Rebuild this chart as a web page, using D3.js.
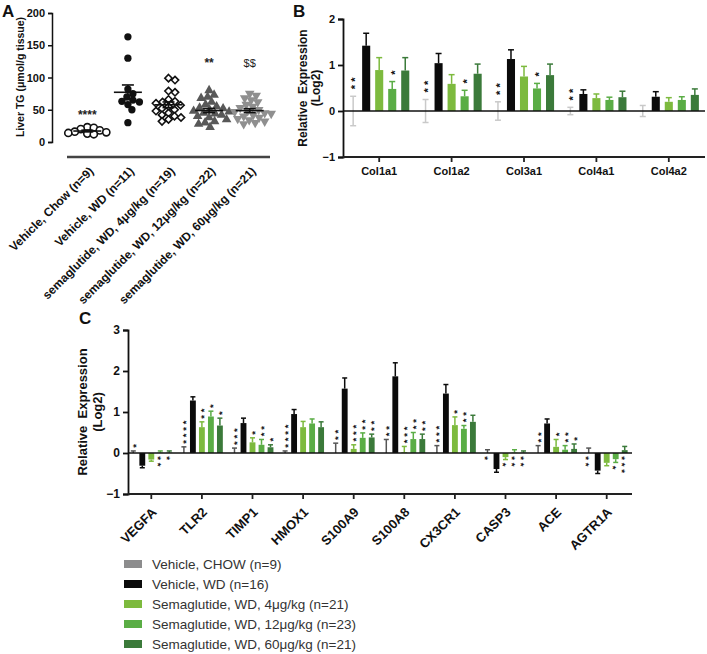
<!DOCTYPE html>
<html><head><meta charset="utf-8">
<script src="https://cdn.jsdelivr.net/npm/d3@7"></script>
<style>body{margin:0;background:#fff} svg{display:block} text{font-family:Arial,"Liberation Sans",sans-serif;fill:#111}</style>
</head><body><svg id="c" width="707" height="654"></svg>
<script>
// ---------- Panel A data ----------
const aGroups = ["Vehicle, Chow (n=9)", "Vehicle, WD (n=11)", "semaglutide, WD, 4μg/kg (n=19)", "semaglutide, WD, 12μg/kg (n=22)", "semaglutide, WD, 60μg/kg (n=21)"];
const aChow = [22, 23, 20, 18, 16, 14, 13, 12, 15];
const aWD = [163, 130, 82, 75, 70, 65, 63, 62, 58, 50, 30];
const a4 = [99, 96, 79, 77, 66, 63, 62, 60, 57, 55, 52, 50, 48, 45, 42, 40, 38, 35, 32];
const a12 = [80, 73, 70, 68, 62, 58, 55, 53, 52, 50, 48, 47, 45, 44, 42, 40, 38, 35, 32, 30, 28, 23];
const a60 = [75, 72, 68, 65, 62, 58, 55, 53, 50, 48, 47, 45, 44, 42, 40, 38, 36, 34, 32, 30, 28];
const aSig = ["****", "", "", "**", "$$"];
const aSigLevel = [36, 0, 0, 116, 116];
const aTicks = [0, 50, 100, 150, 200];

// ---------- Panel B data ----------
const bGenes = ["Col1a1", "Col1a2", "Col3a1", "Col4a1", "Col4a2"];
const bChowErr = [0.32, 0.25, 0.2, 0.08, 0.12];
const bWD = [1.42, 1.04, 1.13, 0.37, 0.31];
const bWDErr = [0.27, 0.21, 0.2, 0.09, 0.11];
const b4 = [0.89, 0.59, 0.75, 0.28, 0.2];
const b4Err = [0.27, 0.2, 0.22, 0.09, 0.09];
const b12 = [0.48, 0.32, 0.49, 0.24, 0.24];
const b12Err = [0.16, 0.13, 0.11, 0.06, 0.07];
const b60 = [0.88, 0.81, 0.78, 0.3, 0.35];
const b60Err = [0.28, 0.21, 0.24, 0.13, 0.13];
const bSigChow = ["**", "**", "**", "**", ""];
const bSig12 = ["*", "*", "*", "", ""];
const bTicks = [-1, 0, 1, 2];

// ---------- Panel C data ----------
const cGenes = ["VEGFA", "TLR2", "TIMP1", "HMOX1", "S100A9", "S100A8", "CX3CR1", "CASP3", "ACE", "AGTR1A"];
const cChowErr = [0.05, 0.15, 0.12, 0.05, 0.24, 0.33, 0.18, 0.08, 0.18, 0.12];
const cWD = [-0.31, 1.28, 0.73, 0.95, 1.57, 1.87, 1.45, -0.39, 0.72, -0.43];
const cWDErr = [0.05, 0.09, 0.12, 0.11, 0.26, 0.33, 0.22, 0.08, 0.11, 0.07];
const c4 = [-0.16, 0.63, 0.26, 0.63, 0.1, 0.02, 0.68, -0.1, 0.15, -0.24];
const c4Err = [0.04, 0.13, 0.11, 0.14, 0.1, 0.14, 0.2, 0.06, 0.18, 0.07];
const c12 = [0.01, 0.89, 0.2, 0.72, 0.37, 0.34, 0.59, 0.01, 0.08, -0.15];
const c12Err = [0.04, 0.13, 0.13, 0.11, 0.12, 0.16, 0.08, 0.07, 0.1, 0.08];
const c60 = [0.01, 0.67, 0.14, 0.63, 0.38, 0.34, 0.76, 0.01, 0.1, 0.07];
const c60Err = [0.04, 0.18, 0.06, 0.13, 0.08, 0.12, 0.16, 0.04, 0.12, 0.09];
// significance marks: [chow, wd, 4, 12, 60]; prefix "v" = drawn below the bar
const cSig = [
  ["*", "", "", "v**", "v*"],
  ["****", "", "**", "*", "*"],
  ["***", "", "*", "**", "*"],
  ["****", "", "", "", ""],
  ["**", "", "***", "**", "**"],
  ["**", "", "***", "**", "**"],
  ["***", "", "*", "**", ""],
  ["v*", "", "v*", "v**", "v**"],
  ["**", "", "*", "**", "*"],
  ["v**", "", "", "v*", "v***"]
];
const cTicks = [-1, 0, 1, 2, 3];

const series = ["Vehicle, CHOW (n=9)", "Vehicle, WD (n=16)", "Semaglutide, WD, 4μg/kg (n=21)", "Semaglutide, WD, 12μg/kg (n=23)", "Semaglutide, WD, 60μg/kg (n=21)"];
const colors = ["#8c8c8d", "#0b0b0b", "#7dba3e", "#5aad45", "#3b7a3a"];

const svg = d3.select("#c");
const FONT = "Arial, Liberation Sans, sans-serif";

// ================= Panel A =================
(function () {
  const g = svg.append("g");
  const y = d3.scaleLinear().domain([0, 200]).range([142, 13]);
  const x = d3.scaleBand().domain(aGroups).range([67, 270]);
  const yAx = g.append("g").attr("transform", "translate(52,0)")
    .call(d3.axisLeft(y).tickValues(aTicks).tickSize(4).tickPadding(3));
  yAx.select(".domain").attr("stroke-width", 1.5).attr("stroke", "#111");
  yAx.selectAll(".tick line").attr("stroke-width", 1.5).attr("stroke", "#111");
  yAx.selectAll("text").attr("font-size", 11).attr("font-weight", "bold").attr("font-family", FONT).style("fill", "#111");
  g.append("line").attr("x1", x.range()[0]).attr("x2", x.range()[1]).attr("y1", 157).attr("y2", 157)
    .attr("stroke", "#444").attr("stroke-width", 2.5);
  aGroups.forEach(name => {
    g.append("text").attr("transform", `translate(${x(name) + x.bandwidth() / 2 + 7},172) rotate(-45)`)
      .attr("text-anchor", "end").attr("font-size", 12).attr("font-weight", "bold").text(name);
  });
  g.append("text").attr("transform", "translate(24,77) rotate(-90)").attr("text-anchor", "middle")
    .attr("font-size", 10.5).attr("font-weight", "bold").text("Liver TG (μmol/g tissue)");
  svg.append("text").attr("x", 2).attr("y", 17).attr("font-size", 17).attr("font-weight", "bold").text("A");

  const sets = [aChow, aWD, a4, a12, a60];
  const r = 3.2;
  function swarm(vals) {
    const placed = [];
    const order = vals.map((v, i) => ({ v, i })).sort((a, b) => b.v - a.v);
    for (const o of order) {
      const py = y(o.v);
      let k = 0, off = 0;
      while (k < 400) {
        off = k === 0 ? 0 : (k % 2 ? 1 : -1) * Math.ceil(k / 2) * 0.5;
        if (placed.every(p => (p.x - off) ** 2 + (p.y - py) ** 2 >= (2 * r) ** 2)) break;
        k++;
      }
      placed.push({ x: off, y: py });
    }
    return placed;
  }
  const sym = [
    { type: d3.symbolCircle, size: 40, fill: "#fff", stroke: "#111" },
    { type: d3.symbolCircle, size: 42, fill: "#111", stroke: "none" },
    { type: d3.symbolDiamond2, size: 34, fill: "#fff", stroke: "#111" },
    { type: d3.symbolTriangle, size: 40, fill: "#585858", stroke: "none" },
    { type: d3.symbolTriangle, size: 40, fill: "#8f8f8f", stroke: "none", rot: 180 }
  ];
  sets.forEach((vals, gi) => {
    const cx = x(aGroups[gi]) + x.bandwidth() / 2;
    const pts = swarm(vals);
    const s = sym[gi];
    const gen = d3.symbol().type(s.type).size(s.size);
    g.append("g").selectAll("path").data(pts).join("path")
      .attr("d", gen)
      .attr("transform", d => `translate(${cx + d.x},${d.y})` + (s.rot ? ` rotate(${s.rot})` : ""))
      .attr("fill", s.fill).attr("stroke", s.stroke).attr("stroke-width", 1.6);
    const m = d3.mean(vals), sem = d3.deviation(vals) / Math.sqrt(vals.length);
    const lg = g.append("g").attr("stroke", "#111").attr("stroke-width", 1.6);
    lg.append("line").attr("x1", cx - 14).attr("x2", cx + 14).attr("y1", y(m)).attr("y2", y(m));
    lg.append("line").attr("x1", cx).attr("x2", cx).attr("y1", y(m - sem)).attr("y2", y(m + sem));
    [m - sem, m + sem].forEach(v => lg.append("line").attr("x1", cx - 6).attr("x2", cx + 6).attr("y1", y(v)).attr("y2", y(v)));
    if (aSig[gi]) {
      const isDollar = aSig[gi].includes("$");
      g.append("text").attr("x", cx).attr("y", y(aSigLevel[gi])).attr("text-anchor", "middle")
        .attr("font-size", isDollar ? 11 : 12).attr("font-weight", isDollar ? "normal" : "bold")
        .style("fill", "#222").text(aSig[gi]);
    }
  });
})();

// ============ helper for bar panels ============
function barPanel(opt) {
  const g = svg.append("g");
  const y = d3.scaleLinear().domain(opt.yDomain).range(opt.yRange);
  const x = d3.scaleBand().domain(opt.genes).range(opt.xRange);
  const xi = d3.scaleBand().domain(d3.range(5)).range([0, x.bandwidth()]).paddingInner(opt.pi).paddingOuter(opt.po);
  const yAx = g.append("g").attr("transform", `translate(${opt.axisX},0)`)
    .call(d3.axisLeft(y).tickValues(opt.ticks).tickFormat(d3.format("d")).tickSize(5).tickPadding(3));
  yAx.select(".domain").attr("stroke-width", 1.8).attr("stroke", "#111");
  yAx.selectAll(".tick line").attr("stroke-width", 1.8).attr("stroke", "#111");
  yAx.selectAll("text").attr("font-size", opt.tickFont).attr("font-weight", "bold").attr("font-family", FONT).style("fill", "#111");
  const bottom = y(opt.yDomain[0]);
  const xAx = g.append("g").attr("transform", `translate(0,${bottom})`)
    .call(d3.axisBottom(x).tickSize(5).tickSizeOuter(0).tickFormat(""));
  xAx.select(".domain").attr("stroke-width", 1.8).attr("stroke", "#222").attr("d", `M${opt.axisX},0H${opt.xRange[1]}`);
  xAx.selectAll(".tick line").attr("stroke-width", 1.8).attr("stroke", "#222");
  const vals = opt.vals, errs = opt.errs;
  const fs = opt.starFont;
  opt.genes.forEach((gene, gi) => {
    for (let s = 0; s < 5; s++) {
      const v = vals[s][gi], e = errs[s][gi];
      const bx = x(gene) + xi(s), bw = xi.bandwidth(), cx = bx + bw / 2;
      if (s > 0) {
        g.append("rect").attr("x", bx).attr("width", bw)
          .attr("y", Math.min(y(0), y(v))).attr("height", Math.abs(y(v) - y(0)))
          .attr("fill", colors[s]);
      }
      const ecol = s === 0 ? opt.chowErrColor : colors[s];
      const dir = v < 0 ? -1 : 1;
      const tip = v + dir * e;
      const lo = (s === 0 && opt.chowBoth) ? v - e : v;
      const eg = g.append("g").attr("stroke", ecol).attr("stroke-width", 1.5);
      eg.append("line").attr("x1", cx).attr("x2", cx).attr("y1", y(lo)).attr("y2", y(tip));
      eg.append("line").attr("x1", cx - opt.cap).attr("x2", cx + opt.cap).attr("y1", y(tip)).attr("y2", y(tip));
      if (s === 0 && opt.chowBoth) eg.append("line").attr("x1", cx - opt.cap).attr("x2", cx + opt.cap).attr("y1", y(lo)).attr("y2", y(lo));
      let sig = opt.sig[gi][s];
      if (sig) {
        const below = sig[0] === "v";
        if (below) sig = sig.slice(1);
        const top = y(Math.max(0, v, tip));
        const bot = y(Math.min(0, v, tip));
        const startY = below ? bot + opt.gap - 0.19 * fs : top - opt.gap + 0.19 * fs;
        g.append("text")
          .attr("transform", `translate(${cx},${startY}) rotate(${below ? 90 : -90})`)
          .attr("x", 0).attr("y", 0.57 * fs)
          .attr("font-size", fs).attr("font-weight", "bold")
          .attr("letter-spacing", opt.pitch - 0.389 * fs)
          .text(sig);
      }
    }
  });
  g.append("line").attr("x1", opt.axisX).attr("x2", opt.xRange[1]).attr("y1", y(0)).attr("y2", y(0))
    .attr("stroke", "#111").attr("stroke-width", 1.5);
  return { g, x, y };
}

// ================= Panel B =================
(function () {
  const p = barPanel({
    genes: bGenes, yDomain: [-1, 2], yRange: [157, 19], xRange: [343, 705], axisX: 343,
    pi: 0.38, po: 0.47, ticks: bTicks, tickFont: 11, cap: 3, chowBoth: true, chowErrColor: "#c9c9c9",
    vals: [bGenes.map(() => 0), bWD, b4, b12, b60], errs: [bChowErr, bWDErr, b4Err, b12Err, b60Err],
    sig: bGenes.map((_, i) => [bSigChow[i], "", "", bSig12[i], ""]), gap: 9, pitch: 7.5, starFont: 11
  });
  bGenes.forEach(gn => {
    p.g.append("text").attr("x", p.x(gn) + p.x.bandwidth() / 2).attr("y", 175).attr("text-anchor", "middle")
      .attr("font-size", 11).attr("font-weight", "bold").text(gn);
  });
  const lab = p.g.append("text").attr("transform", "translate(307,88) rotate(-90)").attr("text-anchor", "middle")
    .attr("font-size", 12).attr("font-weight", "bold");
  lab.append("tspan").attr("x", 0).attr("dy", 0).text("Relative\u00a0\u00a0Expression");
  lab.append("tspan").attr("x", 0).attr("dy", 13).text("(Log2)");
  svg.append("text").attr("x", 293).attr("y", 17).attr("font-size", 17).attr("font-weight", "bold").text("B");
})();

// ================= Panel C =================
(function () {
  const p = barPanel({
    genes: cGenes, yDomain: [-1, 3], yRange: [494, 330], xRange: [126, 632], axisX: 128,
    pi: 0.35, po: 0.485, ticks: cTicks, tickFont: 12, cap: 2.5, chowBoth: false, chowErrColor: "#555",
    vals: [cGenes.map(() => 0), cWD, c4, c12, c60], errs: [cChowErr, cWDErr, c4Err, c12Err, c60Err],
    sig: cSig, gap: 5, pitch: 6.5, starFont: 9.5
  });
  cGenes.forEach(gn => {
    p.g.append("text").attr("transform", `translate(${p.x(gn) + p.x.bandwidth() / 2 + 6},513) rotate(-45)`)
      .attr("text-anchor", "end").attr("font-size", 13).attr("font-weight", "bold").text(gn);
  });
  const lab = p.g.append("text").attr("transform", "translate(87,412) rotate(-90)").attr("text-anchor", "middle")
    .attr("font-size", 13).attr("font-weight", "bold");
  lab.append("tspan").attr("x", 0).attr("dy", 0).text("Relative\u00a0\u00a0Expression");
  lab.append("tspan").attr("x", 0).attr("dy", 15).text("(Log2)");
  svg.append("text").attr("x", 79).attr("y", 324).attr("font-size", 17).attr("font-weight", "bold").text("C");
})();

// ================= Legend =================
(function () {
  const lg = svg.append("g");
  series.forEach((s, i) => {
    const yy = 564 + i * 20;
    lg.append("rect").attr("x", 124).attr("y", yy - 4).attr("width", 18).attr("height", 8).attr("fill", colors[i]);
    lg.append("text").attr("x", 152).attr("y", yy + 5).attr("font-size", 13.5).style("fill", "#333").text(s);
  });
})();
</script></body></html>
